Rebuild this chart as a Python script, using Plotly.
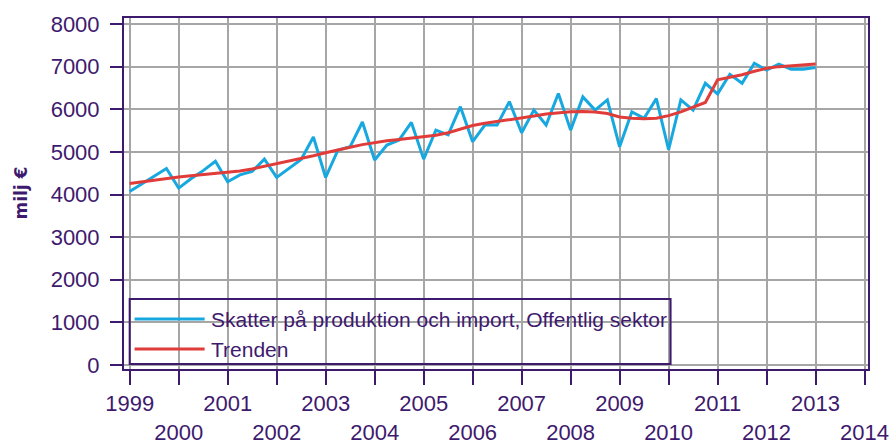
import plotly.graph_objects as go

# Quarterly positions (1999 Q1 .. 2013 Q1)
quarters = [1999 + i * 0.25 for i in range(57)]

skatter = [
    4070, 4250, 4420, 4610,
    4150, 4370, 4560, 4780,
    4300, 4460, 4540, 4830,
    4400, 4620, 4820, 5350,
    4400, 5040, 5120, 5700,
    4810, 5160, 5280, 5690,
    4830, 5510, 5400, 6060,
    5240, 5630, 5630, 6180,
    5450, 5980, 5630, 6370,
    5510, 6290, 5980, 6220,
    5120, 5940, 5790, 6250,
    5050, 6220, 5980, 6610,
    6360, 6820, 6610, 7080,
    6920, 7060, 6940, 6940,
    6980,
]

trenden = [
    4260, 4300, 4340, 4380,
    4410, 4440, 4470, 4500,
    4520, 4550, 4600, 4660,
    4720, 4780, 4840, 4910,
    4980, 5050, 5110, 5170,
    5220, 5260, 5290, 5320,
    5350, 5390, 5450, 5540,
    5620, 5670, 5710, 5750,
    5790, 5840, 5890, 5920,
    5940, 5945, 5935, 5900,
    5820, 5790, 5780, 5790,
    5850, 5940, 6050, 6160,
    6690, 6750, 6810, 6890,
    6960, 7000, 7015, 7030,
    7060,
]

series_names = ["Skatter på produktion och import, Offentlig sektor", "Trenden"]
year_ticks = list(range(1999, 2015))
year_labels = [str(y) if y % 2 == 1 else "<br>" + str(y) for y in year_ticks]
y_ticks = list(range(0, 8001, 1000))
y_title = "milj €"

BLUE = "#17a8e0"
RED = "#e03c3a"
PURPLE = "#3e1a6e"
GRID = "#a6a6a6"
FONT = "Liberation Sans, Arial, sans-serif"
TITLE_FONT = "DejaVu Sans, Verdana, sans-serif"

fig = go.Figure()
fig.add_trace(go.Scatter(x=quarters, y=skatter, mode="lines", name=series_names[0],
                         line=dict(color=BLUE, width=3), showlegend=False))
fig.add_trace(go.Scatter(x=quarters, y=trenden, mode="lines", name=series_names[1],
                         line=dict(color=RED, width=3), showlegend=False))

# Custom legend (box with long line samples)
fig.add_shape(type="rect", xref="x", yref="y", x0=1999.0, x1=2010.04, y0=23, y1=1548,
              line=dict(color=PURPLE, width=2), fillcolor="rgba(0,0,0,0)", layer="above")
legend_y = [1079, 375]
for name, col, ly in zip(series_names, [BLUE, RED], legend_y):
    fig.add_shape(type="line", xref="x", yref="y", x0=1999.10, x1=2000.53, y0=ly, y1=ly,
                  line=dict(color=col, width=3), layer="above")
    fig.add_annotation(xref="x", yref="y", x=2000.62, y=ly, text=name, showarrow=False,
                       xanchor="left", yanchor="middle",
                       font=dict(family=FONT, size=21, color=PURPLE))

# Y-axis title as rotated annotation
fig.add_annotation(xref="paper", yref="paper", x=0, y=0.5, xshift=-104, text="<b>" + y_title + "</b>",
                   textangle=-90, showarrow=False, xanchor="center", yanchor="middle",
                   font=dict(family=TITLE_FONT, size=17, color=PURPLE))

fig.update_layout(
    width=890, height=448,
    margin=dict(l=124, r=21.5, t=18, b=79, autoexpand=False),
    paper_bgcolor="white", plot_bgcolor="white",
    font=dict(family=FONT, size=22, color=PURPLE),
    hovermode=False,
    xaxis=dict(
        range=[1998.884, 2014.07],
        tickmode="array", tickvals=year_ticks, ticktext=year_labels,
        showgrid=True, gridcolor=GRID, gridwidth=2,
        showline=True, linecolor=PURPLE, linewidth=2, mirror=True,
        ticks="outside", ticklen=14, tickwidth=2, tickcolor=PURPLE,
        tickfont=dict(family=FONT, size=22, color=PURPLE),
        ticklabeloverflow="allow",
        zeroline=False, tickangle=0, automargin=False,
    ),
    yaxis=dict(
        range=[-94, 8141],
        tickmode="array", tickvals=y_ticks,
        showgrid=True, gridcolor=GRID, gridwidth=2,
        showline=True, linecolor=PURPLE, linewidth=2, mirror=True,
        ticks="outside", ticklen=12, tickwidth=2, tickcolor=PURPLE,
        tickfont=dict(family=FONT, size=22, color=PURPLE),
        ticklabelstandoff=6, ticklabeloverflow="allow",
        zeroline=False, automargin=False,
    ),
)

# remove the default page margin so the 890x448 figure fills the window exactly
fig.write_html("out.html",
               config={"displayModeBar": False},
               post_script="document.body.style.margin='0';document.body.style.overflow='hidden';")
